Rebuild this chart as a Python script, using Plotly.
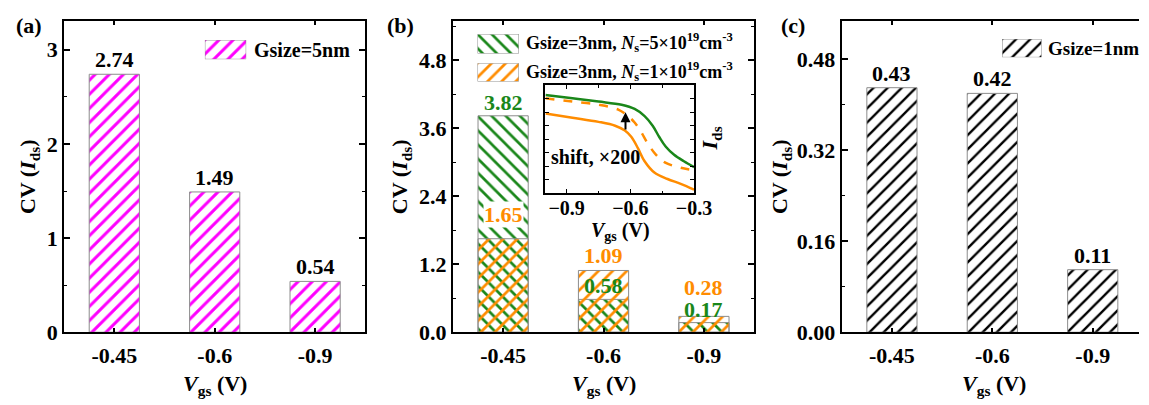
import plotly.graph_objects as go

W, H = 1149, 405
FONT = "Liberation Serif"

categories = ["-0.45", "-0.6", "-0.9"]
cv_5nm = [2.74, 1.49, 0.54]
cv_3nm_ns5e19 = [3.82, 0.58, 0.17]
cv_3nm_ns1e19 = [1.65, 1.09, 0.28]
cv_1nm = [0.43, 0.42, 0.11]

# inset I-V curves (normalised Ids)
vgs_green = [-1.0, -0.873, -0.75, -0.641, -0.58, -0.533, -0.495, -0.464, -0.433, -0.394, -0.348, -0.3]
ids_green = [0.910, 0.880, 0.850, 0.820, 0.781, 0.715, 0.625, 0.520, 0.429, 0.354, 0.294, 0.240]
vgs_orange_shift = [-1.0, -0.873, -0.75, -0.657, -0.611, -0.58, -0.549, -0.518, -0.479, -0.433, -0.363, -0.3]
ids_orange_shift = [0.880, 0.850, 0.820, 0.775, 0.715, 0.655, 0.565, 0.459, 0.354, 0.279, 0.234, 0.210]
vgs_orange = [-1.0, -0.873, -0.75, -0.672, -0.626, -0.595, -0.564, -0.533, -0.487, -0.425, -0.363, -0.3]
ids_orange = [0.739, 0.700, 0.661, 0.625, 0.580, 0.520, 0.414, 0.294, 0.189, 0.129, 0.084, 0.030]

MAGENTA = "#FF00FF"
GREEN = "#1A871A"
ORANGE = "#FF8C00"
BLACK = "#000000"
EDGE = "#8C8C8C"


def fx(p):
    return p / W


def fy(p):
    return 1 - p / H


fig = go.Figure()


def pat(shape, fg, bg, sol):
    return dict(shape=shape, fgcolor=fg, bgcolor=bg, size=10, solidity=sol, fillmode="replace")


# panel a
fig.add_trace(go.Bar(x=categories, y=cv_5nm, width=0.5, xaxis="x", yaxis="y",
                     marker=dict(color="white", line=dict(color=EDGE, width=1),
                                 pattern=pat("/", MAGENTA, "white", 0.3)),
                     showlegend=False))
# panel b
fig.add_trace(go.Bar(x=categories, y=cv_3nm_ns5e19, width=0.5, xaxis="x2", yaxis="y2",
                     marker=dict(color="white", line=dict(color=EDGE, width=1),
                                 pattern=pat("\\", GREEN, "white", 0.27)),
                     showlegend=False))
fig.add_trace(go.Bar(x=categories, y=cv_3nm_ns1e19, width=0.5, xaxis="x2", yaxis="y2",
                     marker=dict(color="rgba(0,0,0,0)", line=dict(color=EDGE, width=1),
                                 pattern=pat("/", ORANGE, "rgba(0,0,0,0)", 0.27)),
                     showlegend=False))
# panel c
fig.add_trace(go.Bar(x=categories, y=cv_1nm, width=0.5, xaxis="x3", yaxis="y3",
                     marker=dict(color="white", line=dict(color=EDGE, width=1),
                                 pattern=pat("/", BLACK, "white", 0.24)),
                     showlegend=False))
# inset
fig.add_trace(go.Scatter(x=vgs_green, y=ids_green, xaxis="x4", yaxis="y4", mode="lines",
                         line=dict(color=GREEN, width=2.5, shape="spline"), showlegend=False))
fig.add_trace(go.Scatter(x=vgs_orange_shift, y=ids_orange_shift, xaxis="x4", yaxis="y4", mode="lines",
                         line=dict(color=ORANGE, width=2.5, shape="spline", dash="dash"), showlegend=False))
fig.add_trace(go.Scatter(x=vgs_orange, y=ids_orange, xaxis="x4", yaxis="y4", mode="lines",
                         line=dict(color=ORANGE, width=2.5, shape="spline"), showlegend=False))

# legend swatches (bars on their own small axes)
swatches = [
    ("x5", "y5", (200, 242), (33, 53), pat("/", MAGENTA, "white", 0.3)),
    ("x6", "y6", (477, 519), (27, 47), pat("\\", GREEN, "white", 0.27)),
    ("x7", "y7", (477, 519), (57, 76), pat("/", ORANGE, "white", 0.27)),
    ("x8", "y8", (1010, 1050), (32, 51), pat("/", BLACK, "white", 0.24)),
]
for xa, ya, _, _, pt in swatches:
    fig.add_trace(go.Bar(x=[0], y=[1], width=1, xaxis=xa, yaxis=ya,
                         marker=dict(color="white", line=dict(color=EDGE, width=1), pattern=pt),
                         showlegend=False, hoverinfo="skip"))

tickfont = dict(family=FONT, size=22, color="black", weight="bold")
ydom = [fy(335), fy(13)]


def xax(dom, rng, mirror="ticks"):
    return dict(domain=dom, type="category", range=rng, showline=True, linewidth=2, linecolor="black",
                mirror=mirror, ticks="inside", ticklen=4, tickwidth=1.5, tickcolor="black",
                tickfont=tickfont, ticklabelstandoff=2, showgrid=False, zeroline=False)


def yax(anchor, rng, dtick, fmt, mirror="ticks"):
    return dict(domain=ydom, anchor=anchor, range=rng, dtick=dtick, tick0=0, tickformat=fmt,
                showline=True, linewidth=2, linecolor="black", mirror=mirror,
                ticks="inside", ticklen=6, tickwidth=1.5, tickcolor="black",
                minor=dict(dtick=dtick / 2, ticks="inside", ticklen=3, tickcolor="black", tickwidth=1),
                tickfont=tickfont, showgrid=False, zeroline=False)


layout = dict(
    width=W, height=H, margin=dict(l=0, r=0, t=0, b=0),
    paper_bgcolor="white", plot_bgcolor="white", barmode="overlay",
    font=dict(family=FONT, color="black"),
    xaxis=xax([fx(57), fx(363)], [-0.5, 2.5]),
    yaxis=yax("x", [0, 3.31], 1, "d"),
    xaxis2=dict(xax([fx(452), fx(758)], [-0.5, 2.5]), anchor="y2"),
    yaxis2=yax("x2", [0, 5.5], 1.2, ".1f"),
    xaxis3=dict(xax([fx(847), 1.0], [-0.5, -0.5 + 302 / 102]), anchor="y3"),
    yaxis3=yax("x3", [0, 0.548], 0.16, ".2f", mirror=False),
    xaxis4=dict(domain=[fx(546), fx(697)], anchor="y4", range=[-1.0, -0.3], tick0=-0.9, dtick=0.3,
                tickformat=".1f", showline=True, linewidth=1.5, linecolor="black", mirror="ticks",
                ticks="inside", ticklen=4, tickcolor="black",
                minor=dict(dtick=0.15, ticks="inside", ticklen=2.5, tickcolor="black"),
                tickfont=dict(family=FONT, size=20, color="black", weight="bold"),
                ticklabelstandoff=-4, showgrid=False, zeroline=False),
    yaxis4=dict(domain=[fy(191), fy(80)], anchor="x4", range=[0, 1], dtick=0.125, tick0=0,
                showticklabels=False, showline=True, linewidth=1.5, linecolor="black", mirror="ticks",
                ticks="inside", ticklen=4, tickcolor="black", showgrid=False, zeroline=False),
)
for xa, ya, (x0, x1), (y0, y1), _ in swatches:
    layout["xaxis" + xa[1:]] = dict(domain=[fx(x0), fx(x1)], anchor=ya, range=[-0.5, 0.5], visible=False)
    layout["yaxis" + ya[1:]] = dict(domain=[fy(y1), fy(y0)], anchor=xa, range=[0, 1], visible=False)
fig.update_layout(**layout)

ann = []
big = dict(family=FONT, size=22, color="black", weight="bold")
lab = dict(family=FONT, size=22, weight="bold")

# panel letters
for t, x in [("(a)", 21), ("(b)", 399), ("(c)", 798)]:
    ann.append(dict(text=t, x=fx(x), y=fy(18), xref="paper", yref="paper", showarrow=False,
                    xanchor="center", yanchor="middle", font=big))
# y titles
for x in [22, 400, 786]:
    ann.append(dict(text="CV (<i>I</i><sub>ds</sub>)", x=fx(x), y=fy(174), xref="paper", yref="paper",
                    textangle=-90, showarrow=False, xanchor="center", yanchor="middle", font=big))
# x titles
for x in [210, 605, 1002]:
    ann.append(dict(text="<i>V</i><sub>gs</sub> (V)", x=fx(x), y=fy(389), xref="paper", yref="paper",
                    showarrow=False, xanchor="center", yanchor="middle", font=big))

# value labels (x given as category index, since the category names look numeric)
for i, v in enumerate(cv_5nm):
    ann.append(dict(text=f"{v:.2f}", x=i, y=v, xref="x", yref="y", showarrow=False,
                    yanchor="bottom", yshift=0, font=dict(lab, color="black")))
for i, v in enumerate(cv_1nm):
    ann.append(dict(text=f"{v:.2f}", x=i, y=v, xref="x3", yref="y3", showarrow=False,
                    yanchor="bottom", yshift=0, font=dict(lab, color="black")))
for i, v in enumerate(cv_3nm_ns5e19):
    ann.append(dict(text=f"{v:.2f}", x=i, y=v, xref="x2", yref="y2", showarrow=False,
                    yanchor="bottom", yshift=-1, font=dict(lab, color=GREEN)))
for i, v in enumerate(cv_3nm_ns1e19):
    g = cv_3nm_ns5e19[i]
    extra = 11 if g > v else (14 if abs(g - v) < 0.2 else 0)
    a = dict(text=f"{v:.2f}", x=i, y=v, xref="x2", yref="y2", showarrow=False,
             yanchor="bottom", yshift=extra, font=dict(lab, color=ORANGE))
    if g > v:
        a["bgcolor"] = "white"
        a["borderpad"] = 0
    ann.append(a)

# legend texts
leg = dict(family=FONT, size=20, color="black", weight="bold")
leg_c = dict(family=FONT, size=19, color="black", weight="bold")
leg_b = dict(family=FONT, size=18, color="black", weight="bold")
ann.append(dict(text="Gsize=5nm", x=fx(248), y=fy(43), xref="paper", yref="paper",
                showarrow=False, xanchor="left", yanchor="middle", font=leg))
ann.append(dict(text="Gsize=3nm, <i>N</i><sub>s</sub>=5×10<sup>19</sup>cm<sup>-3</sup>", x=fx(524), y=fy(36),
                xref="paper", yref="paper", showarrow=False, xanchor="left", yanchor="middle", font=leg_b))
ann.append(dict(text="Gsize=3nm, <i>N</i><sub>s</sub>=1×10<sup>19</sup>cm<sup>-3</sup>", x=fx(524), y=fy(66),
                xref="paper", yref="paper", showarrow=False, xanchor="left", yanchor="middle", font=leg_b))
ann.append(dict(text="Gsize=1nm", x=fx(1055), y=fy(42), xref="paper", yref="paper",
                showarrow=False, xanchor="left", yanchor="middle", font=leg_c))

# inset texts
ann.append(dict(text="<i>V</i><sub>gs</sub> (V)", x=fx(622), y=fy(231), xref="paper", yref="paper",
                showarrow=False, xanchor="center", yanchor="middle",
                font=dict(family=FONT, size=20, color="black", weight="bold")))
ann.append(dict(text="<i>I</i><sub>ds</sub>", x=fx(714), y=fy(135), xref="paper", yref="paper",
                textangle=-90, showarrow=False, xanchor="center", yanchor="middle",
                font=dict(family=FONT, size=22, color="black", weight="bold")))
ann.append(dict(text="shift, ×200", x=-0.985, y=0.333, xref="x4", yref="y4", showarrow=False,
                xanchor="left", yanchor="middle",
                font=dict(family=FONT, size=20, color="black", weight="bold")))
ann.append(dict(text="", x=-0.623, y=0.75, ax=-0.623, ay=0.575, xref="x4", yref="y4",
                axref="x4", ayref="y4", showarrow=True, arrowhead=2, arrowsize=1, arrowwidth=2,
                arrowcolor="black"))

fig.update_layout(annotations=ann)
fig.write_html("out.html")
